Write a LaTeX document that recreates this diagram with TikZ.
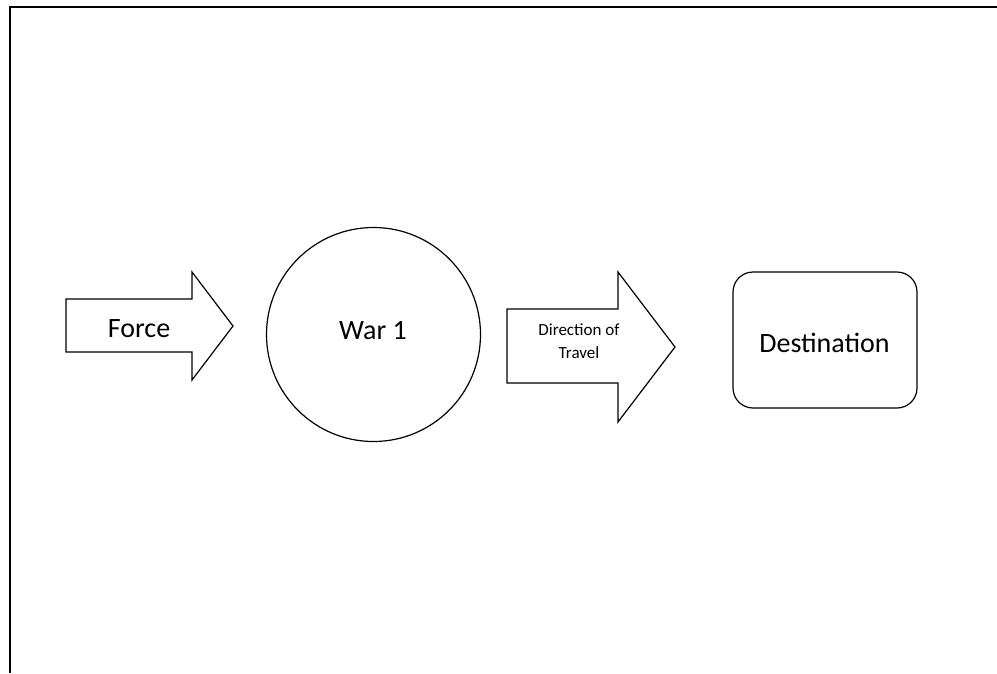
\documentclass[tikz,border=0pt]{standalone}
\usepackage{fontspec}
\setmainfont{Carlito}
\begin{document}
\begin{tikzpicture}[x=1pt,y=-1pt,
  outline/.style={draw=black,line width=1.2pt,fill=white,line join=miter},
  bigtext/.style={font=\fontsize{28}{34}\selectfont,inner sep=0pt,anchor=base},
  smalltext/.style={font=\fontsize{17}{23}\selectfont,inner sep=0pt,align=center,anchor=base}]
\useasboundingbox (0,0) rectangle (997,673);
% page frame: top edge and left edge
\coordinate (ftl) at (9.5,6.5);
\coordinate (ftr) at (997,6.5);
\coordinate (fbl) at (9.5,673);
\draw[line width=2pt] (ftr) -- (ftl) -- (fbl);
% block arrow labelled Force
\draw[outline] (66,299) -- (192,299) -- (192,272) -- (233,326) -- (192,380) -- (192,352) -- (66,352) -- cycle;
\node[bigtext] (force) at (139,337) {Force};
% central circle
\node[outline,circle,minimum size=214pt,inner sep=0pt] (war) at (373.5,334.5) {};
\node[bigtext] (warlabel) at (373,339) {War 1};
% block arrow: direction of travel (base anchor sits on the last line)
\draw[outline] (507,309) -- (618,309) -- (618,272) -- (675,347) -- (618,422) -- (618,383) -- (507,383) -- cycle;
\node[smalltext] (travel) at (579,358) {Direction of\\Travel};
% destination box
\node[outline,rounded corners=20pt,minimum width=184pt,minimum height=136pt] (dest) at (825,340) {};
\node[bigtext] (destlabel) at (824.5,352) {Destination};
\end{tikzpicture}
\end{document}
